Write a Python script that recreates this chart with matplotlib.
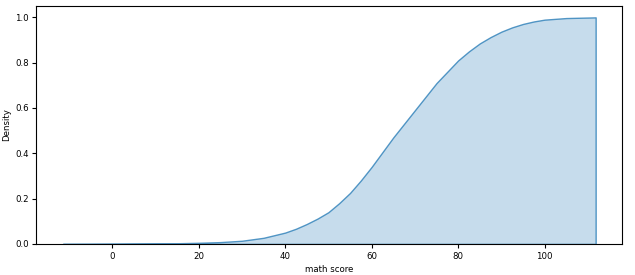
import matplotlib.pyplot as plt
import matplotlib.colors as mcolors

# cumulative density of math score
score = [-11.4, -5, 0, 5, 10, 15, 20, 25, 30, 35, 40, 42.5, 45, 47.5, 50,
         52.5, 55, 57.5, 60, 62.5, 65, 67.5, 70, 72.5, 75, 77.5, 80, 82.5,
         85, 87.5, 90, 92.5, 95, 97.5, 100, 105, 111.8]
density = [0.0, 0.0003, 0.0008, 0.0015, 0.002, 0.003, 0.005, 0.008, 0.014,
           0.027, 0.05, 0.067, 0.088, 0.112, 0.14, 0.18, 0.225, 0.28, 0.34,
           0.405, 0.47, 0.53, 0.59, 0.65, 0.71, 0.76, 0.81, 0.85, 0.885,
           0.913, 0.937, 0.956, 0.971, 0.982, 0.99, 0.997, 1.0]

plt.rcParams['font.size'] = 6.2

fig = plt.figure(figsize=(6.35, 2.75), dpi=100)
ax = fig.add_axes([0.057, 0.113, 0.923, 0.865])

c = mcolors.to_rgba('C0')
ax.fill_between(score, density, 0, facecolor=(*c[:3], 0.25),
                edgecolor=(*c[:3], 0.75), linewidth=1.0)

ax.set_ylim(0, 1.05)
ax.set_xticks([0, 20, 40, 60, 80, 100])
ax.set_yticks([0, 0.2, 0.4, 0.6, 0.8, 1.0])
ax.tick_params(length=3, pad=2.5, width=0.8)
ax.set_xlabel("math score", labelpad=3)
ax.set_ylabel("Density", labelpad=3)

fig.savefig("out.png", dpi=100)
